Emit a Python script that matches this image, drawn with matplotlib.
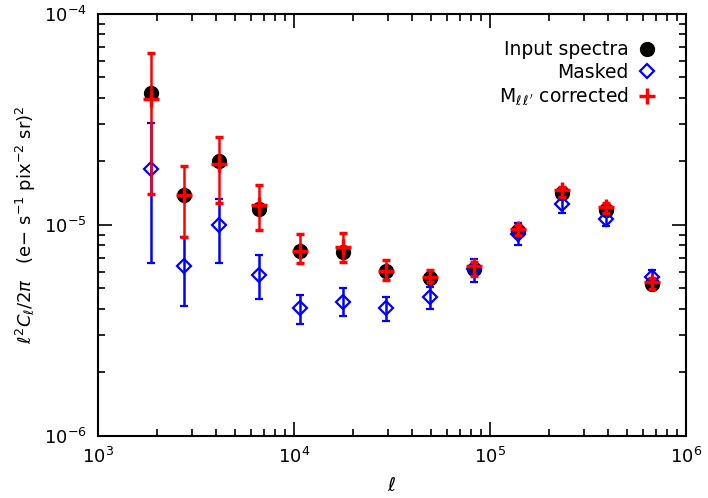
import matplotlib
matplotlib.use("Agg")
import matplotlib.pyplot as plt
import numpy as np
from matplotlib.ticker import LogLocator, NullFormatter
from matplotlib.lines import Line2D

# multipole centres
ell = [1860, 2750, 4140, 6620, 10740, 17780, 29400, 49400, 82700,
       139000, 233000, 391000, 671000]

# Input spectra
inp = [4.21e-5, 1.387e-5, 2.017e-5, 1.187e-5, 7.53e-6, 7.47e-6, 6.07e-6,
       5.63e-6, 6.18e-6, 9.37e-6, 1.413e-5, 1.178e-5, 5.25e-6]

# Masked spectra and error bar limits
masked = [1.837e-5, 6.41e-6, 9.97e-6, 5.79e-6, 4.03e-6, 4.33e-6, 4.03e-6,
          4.54e-6, 6.17e-6, 9.06e-6, 1.257e-5, 1.064e-5, 5.69e-6]
masked_hi = [3.03e-5, 8.80e-6, 1.328e-5, 7.21e-6, 4.66e-6, 5.01e-6, 4.54e-6,
             5.10e-6, 6.90e-6, 1.019e-5, 1.338e-5, 1.14e-5, 6.12e-6]
masked_lo = [6.58e-6, 4.13e-6, 6.58e-6, 4.46e-6, 3.40e-6, 3.72e-6, 3.52e-6,
             3.99e-6, 5.35e-6, 8.04e-6, 1.144e-5, 9.92e-6, 5.39e-6]

# Mll corrected spectra and error bar limits
corr = [3.96e-5, 1.39e-5, 1.95e-5, 1.245e-5, 7.5e-6, 7.89e-6, 6.07e-6,
        5.67e-6, 6.39e-6, 9.57e-6, 1.466e-5, 1.217e-5, 5.37e-6]
corr_hi = [6.51e-5, 1.904e-5, 2.60e-5, 1.547e-5, 9.03e-6, 9.13e-6, 6.83e-6,
           6.12e-6, 6.70e-6, 1.0e-5, 1.518e-5, 1.267e-5, 5.59e-6]
corr_lo = [1.403e-5, 8.80e-6, 1.275e-5, 9.47e-6, 6.58e-6, 6.68e-6, 5.49e-6,
           5.39e-6, 5.75e-6, 8.97e-6, 1.353e-5, 1.14e-5, 4.96e-6]

labels = ['Input spectra', 'Masked', r"M$_{\ell\,\ell'}$ corrected"]

plt.rcParams['font.family'] = ['DejaVu Sans']
plt.rcParams['mathtext.fontset'] = 'dejavusans'

fig = plt.figure(figsize=(7.08, 4.98), dpi=100)
ax = fig.add_axes([0.1384, 0.1245, 0.8306, 0.8475])

x = np.array(ell)
ax.plot(x, inp, 'o', color='black', ms=10, zorder=2)

m = np.array(masked)
ax.errorbar(x, m, yerr=[m - np.array(masked_lo), np.array(masked_hi) - m],
            fmt='D', ms=7, mfc='none', mec='#0000ff', mew=1.6,
            ecolor='#0000ff', elinewidth=1.8, capsize=3, capthick=1.8,
            zorder=3)

c = np.array(corr)
ax.errorbar(x, c, yerr=[c - np.array(corr_lo), np.array(corr_hi) - c],
            fmt='+', ms=11, mec='#ff0000', mew=2.5,
            ecolor='#ff0000', elinewidth=1.8, capsize=3, capthick=1.8,
            zorder=4)

ax.set_xscale('log')
ax.set_yscale('log')
ax.set_xlim(1e3, 1e6)
ax.set_ylim(1e-6, 1e-4)

ax.xaxis.set_major_locator(LogLocator(base=10, numticks=10))
ax.xaxis.set_minor_locator(LogLocator(base=10, subs=np.arange(2, 10), numticks=20))
ax.yaxis.set_major_locator(LogLocator(base=10, numticks=10))
ax.yaxis.set_minor_locator(LogLocator(base=10, subs=np.arange(2, 10), numticks=20))
ax.xaxis.set_minor_formatter(NullFormatter())
ax.yaxis.set_minor_formatter(NullFormatter())

ax.tick_params(which='both', direction='in', top=True, right=True,
               labelsize=13, width=1.2)
ax.tick_params(which='major', length=10, pad=8)
ax.tick_params(which='minor', length=5)
for s in ax.spines.values():
    s.set_linewidth(1.5)

ax.set_xlabel(r'$\ell$', fontsize=14, labelpad=6)
ax.set_ylabel(r'$\ell^2 C_\ell/2\pi$   (e$-$ s$^{-1}$ pix$^{-2}$ sr)$^2$',
              fontsize=13, labelpad=4)

handles = [
    Line2D([], [], ls='none', marker='o', color='black', ms=10),
    Line2D([], [], ls='none', marker='D', ms=7, mfc='none', mec='#0000ff', mew=1.6),
    Line2D([], [], ls='none', marker='+', ms=11, mec='#ff0000', mew=2.5),
]
ax.legend(handles, labels, loc='upper right', markerfirst=False, frameon=False,
          fontsize=13.5, handlelength=1.0, handletextpad=0.5, labelspacing=0.2,
          borderaxespad=1.0, numpoints=1, bbox_to_anchor=(0.995, 1.0))

fig.savefig('out.png', dpi=100)
